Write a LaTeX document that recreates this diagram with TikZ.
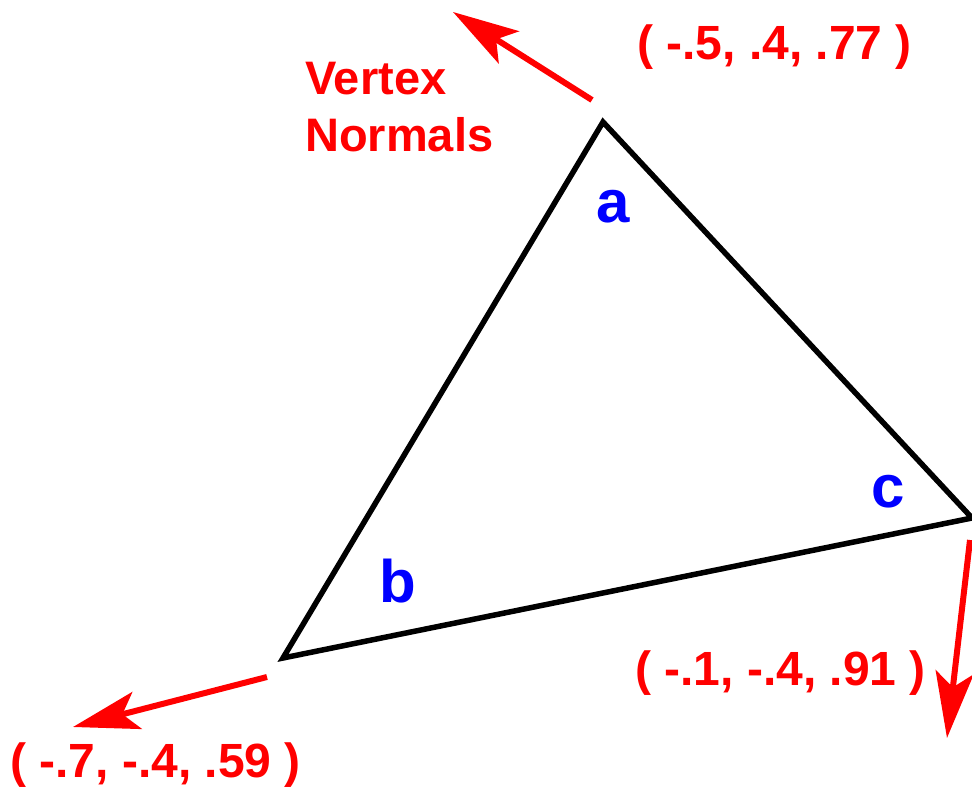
\documentclass[tikz,border=0pt]{standalone}
\usepackage{fontspec}
\setmainfont{Liberation Sans}
\usetikzlibrary{arrows.meta}
\definecolor{nred}{RGB}{255,0,0}
\definecolor{nblue}{RGB}{0,0,255}
\tikzset{
  normal/.style={draw=nred, line width=6pt, -{Stealth[length=66pt,width=38pt,inset=15pt]}},
  edge/.style={draw=black, line width=5.5pt, line join=miter},
  vlabel/.style={text=nblue, font=\fontsize{60}{72}\selectfont\bfseries, inner sep=0pt, anchor=base},
  clabel/.style={text=nred, font=\fontsize{48}{58}\selectfont\bfseries, inner sep=0pt, anchor=base west},
}
\begin{document}
\begin{tikzpicture}[x=1pt,y=-1pt]
\useasboundingbox (0,0) rectangle (972,794);
\coordinate (a) at (603,122);
\coordinate (b) at (283,658);
\coordinate (c) at (972,518);
\draw[edge] (a) -- (c) -- (b) -- cycle;
\coordinate (na0) at (592,100);
\coordinate (na1) at (453,12);
\coordinate (nb0) at (267,677);
\coordinate (nb1) at (73,727);
\coordinate (nc0) at (970,540);
\coordinate (nc1) at (947,738);
\draw[normal] (na0) -- (na1);
\draw[normal] (nb0) -- (nb1);
\draw[normal] (nc0) -- (nc1);
\node[vlabel] (la) at (613,223) {a};
\node[vlabel] (lb) at (398,602) {b};
\node[vlabel] (lc) at (888,507) {c};
\node[clabel] (ta) at (637,60) {( -.5, .4, .77 )};
\node[clabel] (tc) at (635,685) {( -.1, -.4, .91 )};
\node[clabel] (tb) at (10,777) {( -.7, -.4, .59 )};
\node[text=nred, font=\fontsize{47}{57}\selectfont\bfseries, inner sep=0pt, anchor=base west, align=left] (vn) at (305,152) {Vertex\\Normals};
\end{tikzpicture}
\end{document}
